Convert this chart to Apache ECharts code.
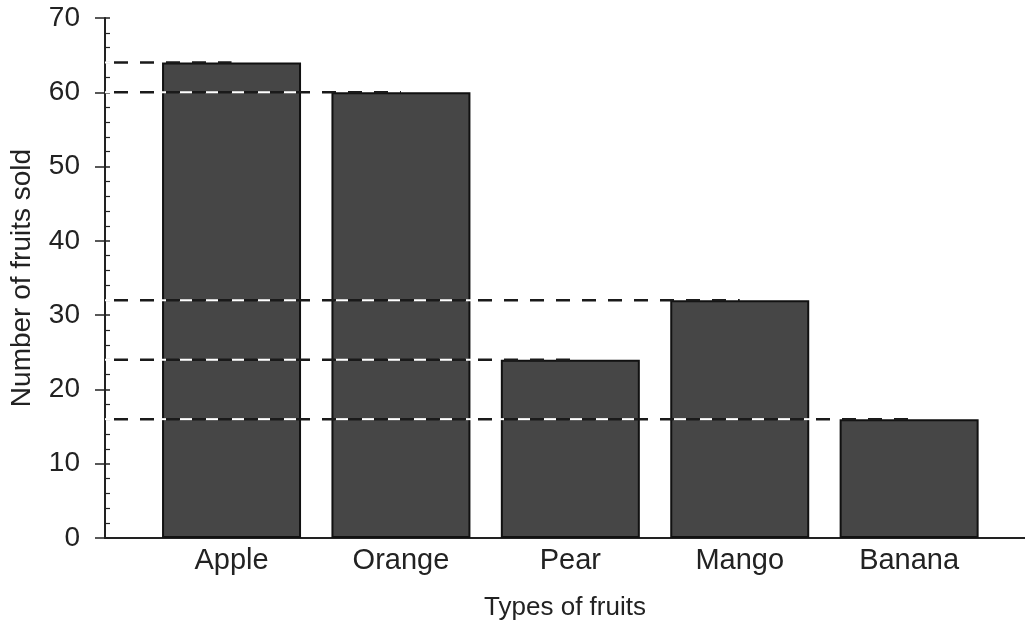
<!DOCTYPE html>
<html><head><meta charset="utf-8">
<script src="https://cdn.jsdelivr.net/npm/echarts@6/dist/echarts.min.js"></script>
<style>html,body{margin:0;padding:0;background:#fff}#c{width:1025px;height:630px}</style>
</head><body><div id="c"></div>
<script>
const categories = ['Apple', 'Orange', 'Pear', 'Mango', 'Banana'];
const fruitsSold = [64, 60, 24, 32, 16];
const yTicks = { min: 0, max: 70, interval: 10 };
const xTitle = 'Types of fruits';
const yTitle = 'Number of fruits sold';

const xMin = -0.747, xMax = 4.684;
const font = '"Liberation Sans", Arial, sans-serif';
const ink = '#222';

const barData = fruitsSold.map((v, i) => [i, v]);
const series = [{
  type: 'bar',
  data: barData,
  barWidth: 139,
  z: 2,
  itemStyle: { color: '#464646', borderColor: '#111', borderWidth: 2 },
  label: {
    show: true, position: 'bottom', distance: 8,
    formatter: p => categories[p.dataIndex],
    fontFamily: font, fontSize: 29, color: ink
  }
}];
fruitsSold.forEach((v, i) => {
  series.push({
    type: 'line', z: 3, silent: true, showSymbol: false, symbol: 'none',
    data: [[xMin, v], [i - 0.5, v]],
    lineStyle: { color: '#fff', width: 2, type: [13, 13], dashOffset: 4 }
  });
  series.push({
    type: 'line', z: 4, silent: true, showSymbol: false, symbol: 'none',
    data: [[xMin, v], [i, v]],
    lineStyle: { color: '#1a1a1a', width: 2.5, type: [14, 12], dashOffset: 17 }
  });
});

const chart = echarts.init(document.getElementById('c'), null, { renderer: 'canvas' });
chart.setOption({
  animation: false,
  backgroundColor: '#fff',
  grid: { left: 105, right: 0, top: 18, bottom: 92, containLabel: false, outerBoundsMode: 'none' },
  xAxis: {
    type: 'value', min: xMin, max: xMax,
    name: xTitle, nameLocation: 'middle', nameGap: 57,
    nameTextStyle: { fontFamily: font, fontSize: 26, color: ink },
    axisLine: { show: true, onZero: false, lineStyle: { color: ink, width: 2 } },
    axisTick: { show: false }, axisLabel: { show: false }, splitLine: { show: false }
  },
  yAxis: [{
    type: 'value', min: yTicks.min, max: yTicks.max, interval: yTicks.interval,
    name: yTitle, nameLocation: 'middle', nameGap: 69,
    nameTextStyle: { fontFamily: font, fontSize: 28, color: ink },
    axisLine: { show: true, onZero: false, lineStyle: { color: ink, width: 2 } },
    axisTick: { show: true, length: 10, lineStyle: { color: ink, width: 1.5 } },
    axisLabel: { fontFamily: font, fontSize: 28, color: ink, margin: 25 },
    splitLine: { show: false }
  }, {
    type: 'value', min: yTicks.min, max: yTicks.max, interval: yTicks.interval, position: 'left',
    axisLine: { show: false, onZero: false },
    axisTick: { show: true, inside: true, length: 5, lineStyle: { color: ink, width: 1.5 } },
    minorTick: { show: true, splitNumber: 5, length: 5, lineStyle: { color: ink, width: 1.2 } },
    axisLabel: { show: false }, splitLine: { show: false }
  }],
  series: series
});
</script></body></html>
